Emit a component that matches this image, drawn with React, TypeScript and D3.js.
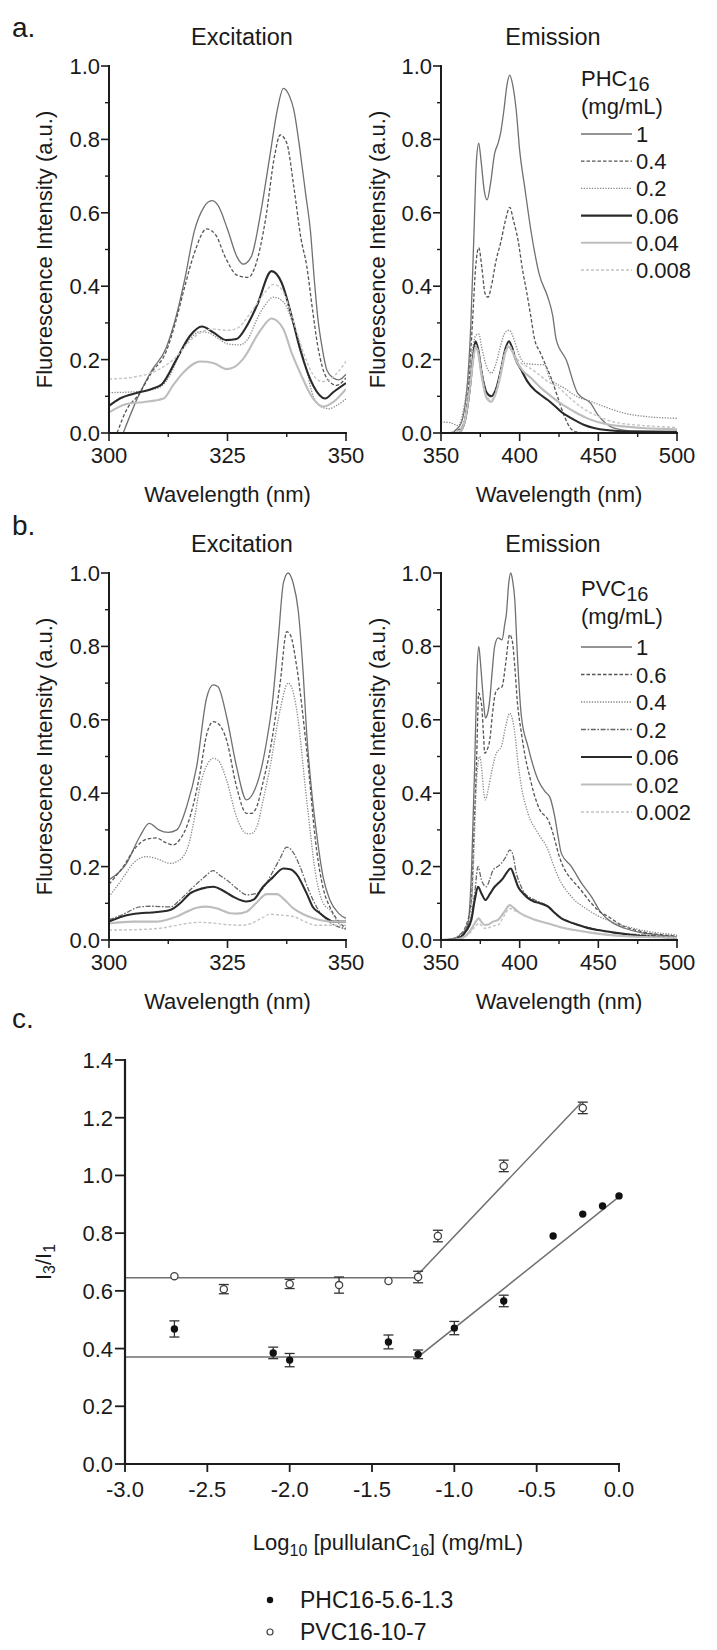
import React from 'react';
import * as d3 from 'd3';

type Pt = [number, number];

// ---------- panel a: PHC16 excitation / emission (wavelength nm, intensity a.u.) ----------
const phcConcs = ['1', '0.4', '0.2', '0.06', '0.04', '0.008'];

const phcExc1: Pt[] = [[303, 0], [306, 0.095], [309, 0.17], [312, 0.23], [314, 0.31], [316, 0.42], [318, 0.55], [320, 0.615], [321.7, 0.633], [323, 0.62], [325, 0.555], [327, 0.48], [328.3, 0.46], [330, 0.48], [332, 0.6], [334, 0.76], [335.5, 0.88], [336.8, 0.939], [338, 0.92], [339, 0.88], [340.3, 0.77], [341.5, 0.65], [342.5, 0.55], [343.3, 0.42], [344, 0.32], [345, 0.23], [346, 0.17], [347.3, 0.15], [348.5, 0.145], [350, 0.16]];
const phcExc04: Pt[] = [[301.7, 0], [304, 0.07], [306, 0.1], [309, 0.165], [312, 0.22], [314, 0.3], [316, 0.4], [318, 0.49], [320.6, 0.556], [322.5, 0.54], [324.5, 0.48], [327, 0.43], [329.4, 0.424], [331, 0.46], [333, 0.58], [335, 0.76], [336.1, 0.812], [337.5, 0.79], [339, 0.67], [340.5, 0.53], [341.7, 0.456], [343, 0.33], [344, 0.24], [345, 0.18], [346.5, 0.14], [348, 0.13], [350, 0.15]];
const phcExc02: Pt[] = [[300, 0.11], [305, 0.112], [309, 0.118], [311, 0.127], [313, 0.16], [315, 0.22], [317, 0.255], [319.2, 0.276], [321, 0.273], [323, 0.258], [325, 0.243], [327.6, 0.24], [329.5, 0.26], [331.2, 0.31], [333, 0.35], [334.7, 0.37], [336.8, 0.357], [338.5, 0.31], [340.3, 0.24], [341.7, 0.17], [343.1, 0.1], [345, 0.07], [346.5, 0.066], [348, 0.075], [350, 0.093]];
const phcExc006: Pt[] = [[300, 0.074], [302.3, 0.094], [305.8, 0.109], [309, 0.12], [311.1, 0.132], [314.3, 0.202], [317.1, 0.265], [319.6, 0.29], [322, 0.274], [324.8, 0.253], [326.9, 0.256], [329, 0.29], [331.2, 0.347], [334.3, 0.441], [336.4, 0.41], [338.5, 0.32], [340.3, 0.229], [343.1, 0.129], [345.6, 0.094], [347.3, 0.111], [350, 0.136]];
const phcExc004: Pt[] = [[300, 0.056], [303.7, 0.079], [307.2, 0.084], [311.5, 0.094], [313.5, 0.13], [315.7, 0.165], [319.2, 0.195], [322, 0.191], [324.8, 0.174], [326.5, 0.18], [328.3, 0.202], [331.9, 0.279], [334.3, 0.312], [336.8, 0.283], [338.5, 0.22], [340.3, 0.165], [343.1, 0.093], [345.2, 0.072], [347.3, 0.084], [350, 0.12]];
const phcExc0008: Pt[] = [[300, 0.147], [305, 0.152], [310, 0.17], [314, 0.205], [317, 0.25], [319.5, 0.275], [322, 0.283], [325, 0.28], [327, 0.285], [330, 0.33], [333, 0.385], [334.7, 0.405], [336.5, 0.39], [339, 0.3], [341, 0.22], [343, 0.16], [345, 0.14], [347, 0.15], [350, 0.195]];

const phcEm1: Pt[] = [[350, 0], [355, 0], [362, 0.02], [366, 0.1], [369, 0.3], [371, 0.55], [372.5, 0.74], [374, 0.79], [375.5, 0.74], [377.5, 0.66], [379.3, 0.635], [381.5, 0.68], [384, 0.76], [386.3, 0.79], [388, 0.82], [390, 0.88], [392, 0.95], [393.7, 0.975], [395.5, 0.95], [397.8, 0.88], [400, 0.77], [403.2, 0.67], [407.4, 0.545], [412.6, 0.43], [417.9, 0.37], [421, 0.32], [423.2, 0.255], [429.5, 0.2], [436.9, 0.108], [445.3, 0.08], [449.6, 0.05], [455, 0.025], [460, 0.013], [470, 0.006], [500, 0.004]];
const phcEm04: Pt[] = [[350, 0], [356, 0], [364, 0.02], [367, 0.1], [370, 0.3], [372, 0.45], [374, 0.505], [376, 0.45], [378, 0.38], [379.9, 0.37], [382, 0.4], [385, 0.47], [388, 0.52], [391, 0.58], [393.7, 0.615], [396, 0.58], [398.9, 0.527], [402, 0.44], [404.2, 0.39], [407, 0.32], [409.5, 0.255], [413, 0.22], [416, 0.19], [420, 0.15], [424, 0.1], [428, 0.05], [432, 0.015], [436, 0.003], [445, 0], [500, 0]];
const phcEm02: Pt[] = [[350, 0.03], [356, 0.028], [361, 0.02], [365, 0.08], [369, 0.2], [372, 0.265], [374, 0.27], [376, 0.23], [379, 0.18], [382, 0.163], [385, 0.19], [388, 0.24], [391, 0.275], [393.5, 0.28], [396, 0.26], [399, 0.22], [403.2, 0.19], [409, 0.187], [415.8, 0.186], [419, 0.15], [423, 0.135], [428.5, 0.122], [436, 0.1], [445.3, 0.086], [455, 0.07], [466.4, 0.054], [480, 0.045], [500, 0.04]];
const phcEm006: Pt[] = [[350, 0], [361, 0], [365, 0.03], [368.3, 0.12], [370.5, 0.21], [371.9, 0.25], [373.5, 0.23], [376, 0.16], [379, 0.11], [382, 0.1], [385, 0.12], [388, 0.17], [391, 0.23], [393.2, 0.25], [395, 0.235], [397.5, 0.2], [401, 0.172], [405, 0.14], [409.5, 0.117], [413, 0.105], [417.9, 0.09], [422, 0.075], [426.3, 0.058], [433, 0.04], [441.1, 0.022], [455, 0.008], [470, 0.004], [500, 0.003]];
const phcEm004: Pt[] = [[350, 0], [361, 0], [365, 0.03], [368.3, 0.12], [370.5, 0.2], [372, 0.235], [373.5, 0.22], [376, 0.15], [379, 0.095], [382, 0.085], [385, 0.11], [388, 0.16], [391, 0.22], [393, 0.235], [395, 0.225], [398, 0.195], [402, 0.17], [407.4, 0.149], [413, 0.125], [420, 0.1], [427, 0.078], [434.8, 0.058], [442, 0.042], [449.6, 0.03], [458, 0.022], [466, 0.018], [480, 0.013], [500, 0.01]];
const phcEm0008: Pt[] = [[350, 0], [360, 0.005], [365, 0.035], [368.3, 0.12], [370.5, 0.2], [372, 0.24], [373.5, 0.225], [376, 0.16], [379, 0.1], [382, 0.09], [385, 0.115], [388, 0.17], [391, 0.225], [393, 0.24], [395, 0.23], [398, 0.205], [401, 0.19], [405.3, 0.18], [412, 0.16], [418, 0.14], [424.2, 0.126], [432, 0.095], [441, 0.065], [450, 0.045], [460, 0.03], [480, 0.02], [500, 0.015]];

// ---------- panel b: PVC16 ----------
const pvcConcs = ['1', '0.6', '0.4', '0.2', '0.06', '0.02', '0.002'];

const pvcExc1: Pt[] = [[300, 0.164], [303.7, 0.209], [306.5, 0.282], [308.5, 0.318], [310.5, 0.3], [312.5, 0.293], [314.3, 0.3], [316.4, 0.364], [318.5, 0.473], [320.6, 0.66], [322, 0.695], [323, 0.69], [324.8, 0.609], [326.9, 0.473], [329, 0.382], [330.4, 0.4], [332, 0.46], [333.3, 0.545], [334.5, 0.65], [335.7, 0.818], [336.8, 0.973], [337.8, 1.0], [338.9, 0.97], [339.9, 0.9], [341, 0.72], [341.7, 0.564], [342.8, 0.4], [343.8, 0.29], [345.2, 0.17], [346.6, 0.109], [348.5, 0.072], [350, 0.059]];
const pvcExc06: Pt[] = [[300, 0.152], [303, 0.2], [305.5, 0.25], [308, 0.275], [310, 0.278], [312, 0.265], [313.6, 0.259], [315, 0.275], [316.4, 0.309], [318, 0.38], [319.2, 0.455], [320.6, 0.56], [322, 0.595], [323, 0.59], [324.8, 0.545], [326.9, 0.418], [329, 0.345], [330, 0.345], [331.2, 0.364], [332.5, 0.43], [334, 0.518], [336.1, 0.7], [337.5, 0.84], [338.3, 0.83], [339.6, 0.745], [341.7, 0.518], [343.8, 0.245], [345.2, 0.14], [346.6, 0.09], [348.5, 0.05], [350, 0.032]];
const pvcExc04: Pt[] = [[300, 0.118], [303, 0.17], [305.1, 0.209], [307.9, 0.227], [310, 0.222], [312.9, 0.209], [314.5, 0.215], [316.4, 0.245], [318, 0.33], [319.2, 0.418], [320.8, 0.48], [322, 0.495], [323, 0.49], [324.8, 0.436], [326.9, 0.336], [329, 0.29], [330, 0.29], [331.2, 0.309], [332.5, 0.38], [334, 0.473], [336.1, 0.627], [337.8, 0.7], [338.5, 0.69], [339.6, 0.627], [341.7, 0.382], [343.8, 0.164], [345.2, 0.1], [346.6, 0.082], [348.5, 0.045], [350, 0.027]];
const pvcExc02: Pt[] = [[300, 0.055], [303, 0.07], [306.5, 0.09], [309, 0.092], [312.9, 0.09], [315, 0.11], [317.1, 0.136], [320, 0.17], [322, 0.189], [323.5, 0.175], [324.8, 0.164], [327, 0.14], [329, 0.123], [331.2, 0.127], [333, 0.15], [334, 0.173], [336, 0.22], [337.5, 0.253], [338.5, 0.245], [340.3, 0.2], [342, 0.14], [343.8, 0.09], [345.5, 0.06], [347, 0.045], [350, 0.03]];
const pvcExc006: Pt[] = [[300, 0.05], [303, 0.065], [306.5, 0.073], [309, 0.075], [312.9, 0.082], [315, 0.1], [317.1, 0.127], [319.5, 0.14], [322, 0.145], [324, 0.135], [326.2, 0.118], [329, 0.105], [330.5, 0.11], [332.5, 0.145], [334.5, 0.17], [336.8, 0.195], [338.2, 0.193], [339.5, 0.18], [341.7, 0.127], [343, 0.09], [344.5, 0.073], [346, 0.058], [347.3, 0.05], [350, 0.05]];
const pvcExc002: Pt[] = [[300, 0.045], [305.1, 0.05], [310, 0.05], [312.2, 0.055], [314.5, 0.065], [316.4, 0.077], [318.5, 0.088], [320.6, 0.091], [323, 0.085], [325.5, 0.073], [327, 0.072], [329, 0.077], [331, 0.1], [333.3, 0.125], [335.4, 0.125], [337, 0.11], [338.9, 0.086], [341, 0.07], [343.1, 0.059], [345.5, 0.052], [347.3, 0.05], [350, 0.05]];
const pvcExc0002: Pt[] = [[300, 0.027], [305, 0.028], [310.8, 0.032], [313.5, 0.038], [316.4, 0.045], [319, 0.048], [322, 0.046], [325, 0.042], [327.6, 0.04], [330, 0.045], [332, 0.058], [334, 0.07], [336, 0.068], [338.9, 0.064], [341, 0.052], [343.8, 0.04], [347, 0.04], [350, 0.04]];

const pvcEm1: Pt[] = [[350, 0], [355, 0], [360.8, 0.005], [364, 0.015], [367.2, 0.045], [369.5, 0.2], [371.4, 0.473], [372.8, 0.72], [374, 0.8], [375, 0.76], [376.1, 0.7], [377.2, 0.64], [378.2, 0.605], [379.5, 0.615], [381, 0.655], [382.5, 0.73], [384.1, 0.8], [386.3, 0.823], [388.8, 0.818], [390.5, 0.86], [391.6, 0.89], [393, 0.97], [394.3, 1.0], [395.5, 0.98], [396.9, 0.927], [398.5, 0.78], [401.1, 0.609], [405.3, 0.527], [411.7, 0.436], [416, 0.405], [419.1, 0.39], [422.3, 0.336], [424.5, 0.28], [426.5, 0.236], [432.9, 0.2], [439.3, 0.155], [445.6, 0.118], [452, 0.073], [458, 0.05], [466.8, 0.032], [477, 0.02], [488, 0.014], [500, 0.009]];
const pvcEm06: Pt[] = [[350, 0], [356, 0.002], [360.8, 0.009], [365, 0.03], [369.3, 0.109], [371, 0.3], [372.5, 0.473], [374, 0.673], [375, 0.66], [376.1, 0.627], [377, 0.56], [377.8, 0.509], [379.5, 0.52], [381, 0.545], [382.8, 0.62], [384.6, 0.673], [386.5, 0.685], [388.8, 0.69], [391, 0.75], [393.7, 0.832], [395.5, 0.81], [396.9, 0.745], [398.5, 0.65], [401.1, 0.564], [403.5, 0.5], [406.4, 0.445], [409, 0.4], [412.8, 0.355], [418.1, 0.327], [420.5, 0.3], [422.3, 0.273], [425, 0.23], [428.7, 0.191], [433, 0.165], [437.2, 0.145], [445.6, 0.1], [450, 0.08], [456.2, 0.064], [465, 0.04], [477.4, 0.023], [500, 0.011]];
const pvcEm04: Pt[] = [[350, 0], [356, 0.002], [362, 0.01], [366, 0.04], [369.3, 0.09], [371, 0.25], [372.5, 0.427], [374.6, 0.5], [376.1, 0.455], [377, 0.41], [378.2, 0.382], [380, 0.41], [382, 0.455], [385.2, 0.509], [388.4, 0.527], [391, 0.58], [393.7, 0.618], [395.5, 0.6], [396.9, 0.564], [399, 0.48], [401.1, 0.418], [405.3, 0.345], [411.7, 0.291], [418.1, 0.245], [421, 0.21], [424.4, 0.173], [432.9, 0.118], [443.5, 0.082], [450, 0.065], [458.4, 0.05], [477.4, 0.027], [500, 0.014]];
const pvcEm02: Pt[] = [[350, 0], [356, 0.002], [362.9, 0.018], [366.5, 0.035], [369.3, 0.064], [371.5, 0.13], [373.5, 0.2], [375.7, 0.164], [378.8, 0.145], [381, 0.165], [383.1, 0.191], [386, 0.2], [388.4, 0.209], [391, 0.225], [393.7, 0.245], [395.5, 0.235], [397.9, 0.182], [400.5, 0.15], [403.2, 0.127], [407, 0.115], [411.7, 0.105], [418.1, 0.091], [423, 0.07], [428.7, 0.055], [436, 0.042], [445.6, 0.032], [460, 0.02], [477.4, 0.014], [500, 0.007]];
const pvcEm006: Pt[] = [[350, 0], [358, 0.002], [362.9, 0.009], [366, 0.025], [369.3, 0.055], [371.5, 0.11], [373.5, 0.145], [375.7, 0.127], [378.2, 0.109], [381, 0.125], [384.1, 0.145], [386.5, 0.155], [389.4, 0.168], [392, 0.185], [394.3, 0.195], [396.5, 0.175], [399, 0.145], [402, 0.128], [405.3, 0.114], [409, 0.105], [412.8, 0.1], [418.1, 0.091], [422, 0.075], [426.5, 0.059], [431, 0.05], [437.2, 0.041], [443, 0.033], [449.9, 0.027], [460, 0.02], [477.4, 0.011], [500, 0.007]];
const pvcEm002: Pt[] = [[350, 0], [360, 0.002], [365, 0.009], [368.5, 0.025], [371.4, 0.045], [374, 0.059], [375.5, 0.05], [377.8, 0.041], [380, 0.042], [383, 0.05], [386.3, 0.055], [390, 0.075], [393.7, 0.095], [396, 0.088], [399, 0.077], [404, 0.065], [409.6, 0.055], [418.1, 0.045], [426, 0.035], [435, 0.027], [445, 0.02], [456.2, 0.014], [475, 0.009], [500, 0.007]];
const pvcEm0002: Pt[] = [[350, 0], [360, 0.002], [365, 0.008], [368.5, 0.02], [371.4, 0.035], [374, 0.045], [375.5, 0.04], [377.8, 0.032], [380, 0.033], [383, 0.038], [386.3, 0.041], [390, 0.065], [393.7, 0.086], [396, 0.082], [399, 0.075], [404, 0.064], [409.6, 0.055], [418.1, 0.045], [426, 0.035], [435, 0.027], [445, 0.02], [456.2, 0.014], [475, 0.009], [500, 0.007]];

const excTicks = [300, 325, 350];
const excMinor = [312.5, 337.5];
const emTicks = [350, 400, 450, 500];
const emMinor = [375, 425, 475];
const intensityTicks = [0, 0.2, 0.4, 0.6, 0.8, 1.0];
const intensityMinor = [0.1, 0.3, 0.5, 0.7, 0.9];

// ---------- panel c: I3/I1 vs log10 concentration ----------
const phcLogC = [-2.7, -2.1, -2.0, -1.4, -1.22, -1.0, -0.7, -0.4, -0.22, -0.1, 0];
const phcRatio = [0.468, 0.385, 0.36, 0.423, 0.38, 0.471, 0.565, 0.79, 0.866, 0.894, 0.929];
const phcErr = [0.028, 0.02, 0.023, 0.024, 0.015, 0.023, 0.02, 0, 0, 0, 0];
const pvcLogC = [-2.7, -2.4, -2.0, -1.7, -1.4, -1.22, -1.1, -0.7, -0.22];
const pvcRatio = [0.651, 0.606, 0.624, 0.62, 0.634, 0.648, 0.79, 1.033, 1.234];
const pvcErr = [0, 0.016, 0.016, 0.028, 0, 0.02, 0.02, 0.02, 0.02];
const phcFit: Pt[] = [[-3, 0.371], [-1.22, 0.371], [0.02, 0.935]];
const pvcFit: Pt[] = [[-3, 0.645], [-1.24, 0.645], [-0.23, 1.252]];
const logTicks = [-3.0, -2.5, -2.0, -1.5, -1.0, -0.5, 0.0];
const ratioTicks = [0, 0.2, 0.4, 0.6, 0.8, 1.0, 1.2, 1.4];

const FONT = '"Liberation Sans", Arial, Helvetica, sans-serif';
const AXIS = '#1c1c1c';

type LineStyle = { stroke: string; width: number; dash?: string };
const STYLES: Record<string, LineStyle> = {
  solid: { stroke: '#707070', width: 1.3 },
  dash: { stroke: '#555555', width: 1.3, dash: '3.5 2' },
  dot: { stroke: '#8a8a8a', width: 1.3, dash: '1.3 1.4' },
  dashdot: { stroke: '#666666', width: 1.3, dash: '5 1.6 1.6 1.6' },
  dark: { stroke: '#2a2a2a', width: 2.1 },
  light: { stroke: '#bdbdbd', width: 2.1 },
  lightdash: { stroke: '#c4c4c4', width: 1.4, dash: '3 2' },
};
const phcStyles = ['solid', 'dash', 'dot', 'dark', 'light', 'lightdash'];
const pvcStyles = ['solid', 'dash', 'dot', 'dashdot', 'dark', 'light', 'lightdash'];

// plain hyphen-minus like the original, not d3's U+2212
const fmt1 = (v: number) => (Math.abs(v) < 1e-9 ? 0 : v).toFixed(1);

function SpectrumPanel({ id, domain, left, right, y0, y1, ticks, minor, series, styles, title, titleX, titleY, yLabelX }: {
  id: string; domain: [number, number]; left: number; right: number; y0: number; y1: number;
  ticks: number[]; minor: number[]; series: Pt[][]; styles: string[]; title: string;
  titleX: number; titleY: number; yLabelX: number;
}) {
  const x = d3.scaleLinear().domain(domain).range([left, right]);
  const y = d3.scaleLinear().domain([0, 1]).range([y0, y1]);
  const line = d3.line<Pt>().x((d) => x(d[0])).y((d) => y(d[1])).curve(d3.curveMonotoneX);
  return (
    <g>
      <defs>
        <clipPath id={`clip-${id}`}>
          <rect x={left} y={y1 - 10} width={right - left} height={y0 - y1 + 10} />
        </clipPath>
      </defs>
      <text x={titleX} y={titleY} textAnchor="middle" fontSize={23.5}>{title}</text>
      <g clipPath={`url(#clip-${id})`}>
        {series.map((s, i) => {
          const st = STYLES[styles[i]];
          return (
            <path key={i} d={line(s) ?? ''} fill="none" stroke={st.stroke} strokeWidth={st.width}
              strokeDasharray={st.dash} strokeLinejoin="round" />
          );
        })}
      </g>
      {/* axes */}
      <line x1={left} x2={left} y1={y1 - 1} y2={y0 + 1} stroke={AXIS} strokeWidth={2} />
      <line x1={left - 1} x2={right + 1} y1={y0} y2={y0} stroke={AXIS} strokeWidth={2} />
      {intensityTicks.map((t) => (
        <g key={t}>
          <line x1={left - 8} x2={left} y1={y(t)} y2={y(t)} stroke={AXIS} strokeWidth={1.6} />
          <text x={left - 9} y={y(t) + 8} textAnchor="end" fontSize={22}>{fmt1(t)}</text>
        </g>
      ))}
      {intensityMinor.map((t) => (
        <line key={t} x1={left - 4} x2={left} y1={y(t)} y2={y(t)} stroke={AXIS} strokeWidth={1.4} />
      ))}
      {ticks.map((t) => (
        <g key={t}>
          <line x1={x(t)} x2={x(t)} y1={y0} y2={y0 + 8} stroke={AXIS} strokeWidth={1.6} />
          <text x={x(t)} y={y0 + 30} textAnchor="middle" fontSize={22}>{t}</text>
        </g>
      ))}
      {minor.map((t) => (
        <line key={t} x1={x(t)} x2={x(t)} y1={y0} y2={y0 + 4} stroke={AXIS} strokeWidth={1.4} />
      ))}
      <text x={(left + right) / 2} y={y0 + 69} textAnchor="middle" fontSize={22}>Wavelength (nm)</text>
      <text transform={`translate(${yLabelX},${(y0 + y1) / 2}) rotate(-90)`} textAnchor="middle"
        dominantBaseline="central" fontSize={22}>Fluorescence Intensity (a.u.)</text>
    </g>
  );
}

function SpectrumLegend({ name, concs, styles, x, titleY, rowY, step }: {
  name: string; concs: string[]; styles: string[]; x: number; titleY: number; rowY: number; step: number;
}) {
  return (
    <g fontSize={22}>
      <text x={x} y={titleY}>
        {name}
        <tspan dy={5} fontSize={20}>16</tspan>
      </text>
      <text x={x} y={titleY + 28}>(mg/mL)</text>
      {concs.map((c, i) => {
        const st = STYLES[styles[i]];
        const cy = rowY + i * step;
        return (
          <g key={c}>
            <line x1={x} x2={x + 51} y1={cy} y2={cy} stroke={st.stroke} strokeWidth={st.width}
              strokeDasharray={st.dash} />
            <text x={x + 55} y={cy + 8}>{c}</text>
          </g>
        );
      })}
    </g>
  );
}

function RatioPanel() {
  const x = d3.scaleLinear().domain([-3, 0]).range([125, 619]);
  const y = d3.scaleLinear().domain([0, 1.4]).range([1464, 1060]);
  const line = d3.line<Pt>().x((d) => x(d[0])).y((d) => y(d[1]));
  const bars = (xs: number[], ys: number[], es: number[]) =>
    xs.map((v, i) => es[i] > 0 ? (
      <g key={i} stroke="#333" strokeWidth={1.3}>
        <line x1={x(v)} x2={x(v)} y1={y(ys[i] - es[i])} y2={y(ys[i] + es[i])} />
        <line x1={x(v) - 5} x2={x(v) + 5} y1={y(ys[i] - es[i])} y2={y(ys[i] - es[i])} />
        <line x1={x(v) - 5} x2={x(v) + 5} y1={y(ys[i] + es[i])} y2={y(ys[i] + es[i])} />
      </g>
    ) : null);
  const [x0, x1] = x.range();
  const [yb, yt] = y.range();
  return (
    <g>
      <path d={line(pvcFit) ?? ''} fill="none" stroke="#707070" strokeWidth={1.5} />
      <path d={line(phcFit) ?? ''} fill="none" stroke="#707070" strokeWidth={1.5} />
      {bars(pvcLogC, pvcRatio, pvcErr)}
      {bars(phcLogC, phcRatio, phcErr)}
      {pvcLogC.map((v, i) => (
        <circle key={i} cx={x(v)} cy={y(pvcRatio[i])} r={3.6} fill="#fff" stroke="#444" strokeWidth={1.3} />
      ))}
      {phcLogC.map((v, i) => (
        <circle key={i} cx={x(v)} cy={y(phcRatio[i])} r={3.7} fill="#111" />
      ))}
      <line x1={x0} x2={x0} y1={yt - 1} y2={yb + 1} stroke={AXIS} strokeWidth={2.2} />
      <line x1={x0 - 1} x2={x1 + 1} y1={yb} y2={yb} stroke={AXIS} strokeWidth={2.2} />
      {ratioTicks.map((t) => (
        <g key={t}>
          <line x1={x0 - 10} x2={x0} y1={y(t)} y2={y(t)} stroke={AXIS} strokeWidth={1.8} />
          <text x={x0 - 12} y={y(t) + 8} textAnchor="end" fontSize={22}>{fmt1(t)}</text>
        </g>
      ))}
      {logTicks.map((t) => (
        <g key={t}>
          <line x1={x(t)} x2={x(t)} y1={yb} y2={yb + 8} stroke={AXIS} strokeWidth={1.8} />
          <text x={x(t)} y={yb + 33} textAnchor="middle" fontSize={22}>{fmt1(t)}</text>
        </g>
      ))}
      <text x={388} y={1550} textAnchor="middle" fontSize={22}>
        Log<tspan dy={6} fontSize={16}>10</tspan>
        <tspan dy={-6}> [pullulanC</tspan>
        <tspan dy={6} fontSize={16}>16</tspan>
        <tspan dy={-6}>] (mg/mL)</tspan>
      </text>
      <text transform={`translate(43,1262) rotate(-90)`} textAnchor="middle" dominantBaseline="central" fontSize={22}>
        I<tspan dy={6} fontSize={16}>3</tspan>
        <tspan dy={-6}>/I</tspan>
        <tspan dy={6} fontSize={16}>1</tspan>
      </text>
      {/* legend */}
      <circle cx={270} cy={1600} r={3.2} fill="#111" />
      <text x={300} y={1608} fontSize={23}>PHC16-5.6-1.3</text>
      <circle cx={270} cy={1632} r={3} fill="#fff" stroke="#444" strokeWidth={1.2} />
      <text x={300} y={1640} fontSize={23}>PVC16-10-7</text>
    </g>
  );
}

export default function App() {
  const phcExc = [phcExc1, phcExc04, phcExc02, phcExc006, phcExc004, phcExc0008];
  const phcEm = [phcEm1, phcEm04, phcEm02, phcEm006, phcEm004, phcEm0008];
  const pvcExc = [pvcExc1, pvcExc06, pvcExc04, pvcExc02, pvcExc006, pvcExc002, pvcExc0002];
  const pvcEm = [pvcEm1, pvcEm06, pvcEm04, pvcEm02, pvcEm006, pvcEm002, pvcEm0002];
  return (
    <svg width={717} height={1650} style={{ position: 'absolute', left: 0, top: 0, background: '#fff' }}
      fontFamily={FONT} fill="#1a1a1a">
      <rect width={717} height={1650} fill="#fff" />
      <text x={12} y={37} fontSize={28}>a.</text>
      <text x={12} y={535} fontSize={28}>b.</text>
      <text x={12} y={1028} fontSize={28}>c.</text>

      <SpectrumPanel id="ae" domain={[300, 350]} left={109} right={346} y0={433} y1={66}
        ticks={excTicks} minor={excMinor} series={phcExc} styles={phcStyles}
        title="Excitation" titleX={242} titleY={45} yLabelX={44} />
      <SpectrumPanel id="am" domain={[350, 500]} left={441} right={677} y0={433} y1={66}
        ticks={emTicks} minor={emMinor} series={phcEm} styles={phcStyles}
        title="Emission" titleX={553} titleY={45} yLabelX={377} />
      <SpectrumLegend name="PHC" concs={phcConcs} styles={phcStyles} x={581} titleY={86} rowY={134} step={27.2} />

      <SpectrumPanel id="be" domain={[300, 350]} left={109} right={346} y0={940} y1={573}
        ticks={excTicks} minor={excMinor} series={pvcExc} styles={pvcStyles}
        title="Excitation" titleX={242} titleY={552} yLabelX={44} />
      <SpectrumPanel id="bm" domain={[350, 500]} left={441} right={677} y0={940} y1={573}
        ticks={emTicks} minor={emMinor} series={pvcEm} styles={pvcStyles}
        title="Emission" titleX={553} titleY={552} yLabelX={377} />
      <SpectrumLegend name="PVC" concs={pvcConcs} styles={pvcStyles} x={581} titleY={596} rowY={647} step={27.5} />

      <RatioPanel />
    </svg>
  );
}
